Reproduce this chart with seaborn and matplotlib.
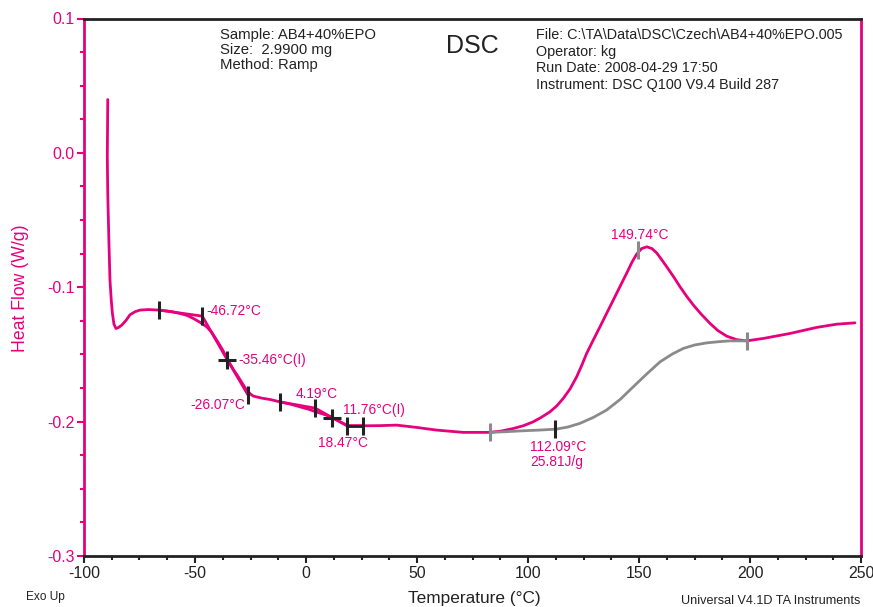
import numpy as np
import pandas as pd
import matplotlib
matplotlib.use("Agg")
import matplotlib.pyplot as plt
from matplotlib.ticker import MultipleLocator, FormatStrFormatter
import seaborn as sns

# ---- data ----
temp = [-89.3, -89.5, -89.3, -88.8, -88.3, -87.7, -87.2, -86.5, -85.6, -84.5,
        -83.0, -81.0, -79.3, -77.0, -74.8, -71.0, -66.1, -61.0, -56.8, -53.5,
        -50.8, -48.0, -44.7, -42.5, -40.2, -37.6, -35.0, -32.8, -30.5, -28.5,
        -26.7, -25.0, -23.7, -20.0, -16.0, -11.7, -7.0, -2.7, 1.0, 4.5,
        8.5, 12.3, 15.5, 19.0, 26.1, 33.0, 40.8, 49.8, 58.8, 70.8,
        82.9, 88.0, 93.4, 98.0, 102.4, 106.0, 109.9, 113.0, 115.9, 119.0,
        121.9, 124.2, 126.4, 129.4, 132.4, 135.4, 138.4, 141.4, 144.4, 146.8,
        149.0, 151.2, 153.5, 155.8, 158.0, 160.0, 162.5, 165.5, 168.5, 171.5,
        174.5, 178.0, 182.0, 185.5, 189.5, 194.0, 198.5, 206.0, 218.0, 230.0,
        239.0, 247.3]
heat_flow = [0.0397, -0.0030, -0.0300, -0.0650, -0.0947, -0.1100, -0.1195, -0.1275, -0.1307, -0.1300,
             -0.1282, -0.1245, -0.1205, -0.1182, -0.1170, -0.1166, -0.1170, -0.1180, -0.1195, -0.1210,
             -0.1232, -0.1258, -0.1295, -0.1335, -0.1394, -0.1465, -0.1548, -0.1610, -0.1667, -0.1720,
             -0.1766, -0.1795, -0.1810, -0.1825, -0.1836, -0.1853, -0.1870, -0.1890, -0.1907, -0.1927,
             -0.1948, -0.1972, -0.2002, -0.2031, -0.2031, -0.2030, -0.2026, -0.2043, -0.2063, -0.2080,
             -0.2080, -0.2070, -0.2051, -0.2030, -0.2001, -0.1968, -0.1927, -0.1882, -0.1827, -0.1755,
             -0.1667, -0.1582, -0.1493, -0.1393, -0.1295, -0.1195, -0.1096, -0.0996, -0.0897, -0.0815,
             -0.0752, -0.0712, -0.0699, -0.0712, -0.0745, -0.0790, -0.0848, -0.0920, -0.0997, -0.1068,
             -0.1133, -0.1200, -0.1269, -0.1322, -0.1364, -0.1390, -0.1399, -0.1381, -0.1344, -0.1299,
             -0.1275, -0.1265]

base_temp = [82.9, 90.0, 97.9, 105.0, 112.6, 118.0, 123.4, 129.5, 135.4, 141.5,
             147.4, 153.5, 159.5, 165.0, 170.0, 175.0, 180.5, 186.0, 191.0, 198.5]
base_hf = [-0.2080, -0.2075, -0.2068, -0.2063, -0.2056, -0.2040, -0.2013, -0.1968, -0.1914, -0.1835,
           -0.1741, -0.1645, -0.1555, -0.1497, -0.1455, -0.1430, -0.1414, -0.1405, -0.1399, -0.1399]

# tangent construction lines (glass transitions)
tan1_temp = [-66.1, -46.72, -35.46, -26.07]
tan1_hf = [-0.1170, -0.1215, -0.1540, -0.1803]
tan2_temp = [-11.7, 4.19, 11.76, 18.47, 25.8]
tan2_hf = [-0.1853, -0.1900, -0.1970, -0.2031, -0.2031]

tick_temp = [-66.1, -46.72, -26.07, -11.7, 4.19, 18.47, 25.8]
tick_hf = [-0.1170, -0.1215, -0.1803, -0.1853, -0.1900, -0.2031, -0.2031]
cross_temp = [-35.46, 11.76]
cross_hf = [-0.1540, -0.1970]
grey_tick_temp = [82.9, 149.74, 198.5]
grey_tick_hf = [-0.2080, -0.0724, -0.1399]
base_tick_temp = [112.09]
base_tick_hf = [-0.2056]

labels = ["-46.72°C", "-35.46°C(I)", "-26.07°C", "4.19°C", "11.76°C(I)",
          "18.47°C", "149.74°C", "112.09°C\n25.81J/g"]
label_temp = [-45.0, -30.6, -27.5, -4.5, 16.7, 5.4, 150.5, 100.9]
label_hf = [-0.1178, -0.1540, -0.1877, -0.1797, -0.1915, -0.2160, -0.0612, -0.2245]
label_ha = ["left", "left", "right", "left", "left", "left", "center", "left"]

x_ticks = [-100, -50, 0, 50, 100, 150, 200, 250]
y_ticks = [-0.3, -0.2, -0.1, 0.0, 0.1]

MAG = "#E6007E"
GREY = "#8a8a8a"
DARK = "#222222"

sns.set_theme(style="ticks")
plt.rcParams["font.family"] = ["Liberation Sans", "DejaVu Sans"]
plt.rcParams["axes.unicode_minus"] = False

fig = plt.figure(figsize=(8.73, 6.07), dpi=100)
ax = fig.add_axes([84 / 873, 1 - 556 / 607, (861 - 84) / 873, (556 - 18.5) / 607])

df = pd.DataFrame({"T": temp, "HF": heat_flow})
sns.lineplot(data=df, x="T", y="HF", sort=False, estimator=None, color=MAG, lw=2.0, ax=ax)
bdf = pd.DataFrame({"T": base_temp, "HF": base_hf})
sns.lineplot(data=bdf, x="T", y="HF", sort=False, estimator=None, color=GREY, lw=2.0, ax=ax)
sns.lineplot(x=tan1_temp, y=tan1_hf, sort=False, estimator=None, color=MAG, lw=2.0, ax=ax)
sns.lineplot(x=tan2_temp, y=tan2_hf, sort=False, estimator=None, color=MAG, lw=2.0, ax=ax)
ax.plot(tan2_temp[-2:], tan2_hf[-2:], color=DARK, lw=2.0)

ax.plot(tick_temp, tick_hf, ls="none", marker="|", ms=13, mew=2.2, color=DARK)
ax.plot(cross_temp, cross_hf, ls="none", marker="+", ms=13, mew=2.2, color=DARK)
ax.plot(grey_tick_temp, grey_tick_hf, ls="none", marker="|", ms=13, mew=2.2, color=GREY)
ax.plot(base_tick_temp, base_tick_hf, ls="none", marker="|", ms=13, mew=2.2, color=DARK)

for s, tx, hy, ha in zip(labels, label_temp, label_hf, label_ha):
    ax.text(tx, hy, s, color=MAG, fontsize=9.9, ha=ha, va="center", linespacing=1.15)

ax.set_xlim(-100, 250)
ax.set_ylim(-0.3, 0.1)
ax.set_xticks(x_ticks)
ax.set_yticks(y_ticks)
ax.xaxis.set_minor_locator(MultipleLocator(12.5))
ax.yaxis.set_minor_locator(MultipleLocator(0.025))
ax.yaxis.set_major_formatter(FormatStrFormatter("%.1f"))
ax.set_xticklabels([str(v) for v in x_ticks])

ax.tick_params(axis="x", which="major", length=5, width=1.5, color=DARK,
               labelsize=11.4, labelcolor=DARK, pad=2)
ax.tick_params(axis="x", which="minor", length=3, width=1.5, color=DARK)
ax.tick_params(axis="y", which="major", length=5, width=1.5, color=MAG,
               labelsize=11.4, labelcolor=MAG, pad=2)
ax.tick_params(axis="y", which="minor", length=3, width=1.5, color=MAG)
ax.tick_params(right=False, top=False)

for side in ["left", "right"]:
    ax.spines[side].set_color(MAG)
    ax.spines[side].set_linewidth(2.0)
for side in ["top", "bottom"]:
    ax.spines[side].set_color(DARK)
    ax.spines[side].set_linewidth(2.0)
ax.spines["right"].set_visible(True)
ax.spines["top"].set_visible(True)

ax.set_xlabel("")
ax.set_ylabel("")
fig.text(21 / 873, 1 - 288 / 607, "Heat Flow (W/g)", color=MAG, fontsize=12.7,
         rotation=90, ha="center", va="center")
fig.text(474 / 873, 1 - 598 / 607, "Temperature (°C)", color=DARK, fontsize=12.4,
         ha="center", va="center")
fig.text(26 / 873, 1 - 597 / 607, "Exo Up", color=DARK, fontsize=8.6, ha="left", va="center")
fig.text(860 / 873, 1 - 601 / 607, "Universal V4.1D TA Instruments", color=DARK,
         fontsize=9.1, ha="right", va="center")

hdr_left = ["Sample: AB4+40%EPO", "Size:  2.9900 mg", "Method: Ramp"]
hdr_left_y = [35, 50, 65]
for s, yy in zip(hdr_left, hdr_left_y):
    fig.text(220 / 873, 1 - yy / 607, s, color=DARK, fontsize=10.7, ha="left", va="center")
fig.text(446 / 873, 1 - 46 / 607, "DSC", color=DARK, fontsize=18, ha="left", va="center")
hdr_right = ["File: C:\\TA\\Data\\DSC\\Czech\\AB4+40%EPO.005", "Operator: kg",
             "Run Date: 2008-04-29 17:50", "Instrument: DSC Q100 V9.4 Build 287"]
hdr_right_y = [35, 52, 68, 85]
for s, yy in zip(hdr_right, hdr_right_y):
    fig.text(536 / 873, 1 - yy / 607, s, color=DARK, fontsize=10.4, ha="left", va="center")

fig.savefig("out.png", dpi=100, facecolor="white")
